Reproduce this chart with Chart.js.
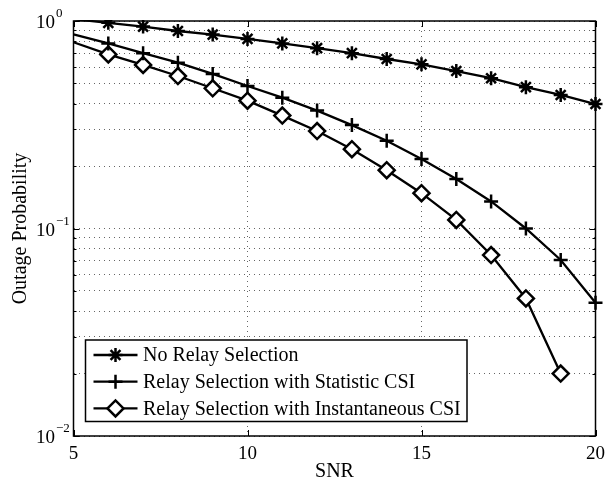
<!DOCTYPE html>
<html>
<head>
<meta charset="utf-8">
<script src="https://cdn.jsdelivr.net/npm/chart.js@4.4.0/dist/chart.umd.min.js"></script>
<style>
  html, body { margin: 0; padding: 0; background: #fff; }
  #wrap { width: 607px; height: 483px; }
</style>
</head>
<body>
<div id="wrap"><canvas id="maincanvas" width="607" height="483"></canvas></div>
<script>
// data
var snr = [5, 6, 7, 8, 9, 10, 11, 12, 13, 14, 15, 16, 17, 18, 19, 20];
var noRelay = [1.02, 0.98, 0.94, 0.895, 0.86, 0.82, 0.78, 0.74, 0.70, 0.656, 0.618, 0.574, 0.53, 0.48, 0.44, 0.398];
var statCsi = [0.863, 0.78, 0.70, 0.63, 0.556, 0.486, 0.427, 0.37, 0.315, 0.265, 0.216, 0.173, 0.135, 0.100, 0.0705, 0.0439];
var instCsi = [0.79, 0.69, 0.614, 0.543, 0.474, 0.413, 0.35, 0.295, 0.241, 0.191, 0.148, 0.110, 0.0745, 0.046, 0.020];
var seriesNames = ["No Relay Selection", "Relay Selection with Statistic CSI", "Relay Selection with Instantaneous CSI"];
var xTicks = [5, 10, 15, 20];
var yTicks = [0.01, 0.02, 0.03, 0.04, 0.05, 0.06, 0.07, 0.08, 0.09,
              0.1, 0.2, 0.3, 0.4, 0.5, 0.6, 0.7, 0.8, 0.9, 1];
var yDecades = [1, 0.1, 0.01];
var yExponents = ["0", "\u22121", "\u22122"];

var serif = '"Liberation Serif", "Times New Roman", serif';

function toPoints(vals) {
    return vals.map(function(v, i){ return {x: snr[i], y: v}; });
}
function radii(vals, r) {
    // no marker on the first sample (x = 5)
    return vals.map(function(v, i){ return i === 0 ? 0 : r; });
}

function makeSet(label, vals, style, r) {
    return {
        label: label,
        data: toPoints(vals),
        borderColor: "#000",
        borderWidth: 2.3,
        pointStyle: style,
        pointRadius: radii(vals, r),
        pointHoverRadius: radii(vals, r),
        pointBorderColor: "#000",
        pointBackgroundColor: "#fff",
        pointBorderWidth: 2.5,
        tension: 0,
        clip: {left: 0, top: 1, right: 10, bottom: 10}
    };
}

var datasets = [
    makeSet(seriesNames[0], noRelay, "star", 7),
    makeSet(seriesNames[1], statCsi, "cross", 7),
    makeSet(seriesNames[2], instCsi, "rectRot", 8)
];

var frameAndLabels = {
    id: "frameAndLabels",
    afterDatasetsDraw: function(chart) {
        var ctx = chart.ctx, a = chart.chartArea;
        var xs = chart.scales.x, ys = chart.scales.y;
        ctx.save();
        ctx.strokeStyle = "#000";
        // inward ticks
        ctx.lineWidth = 1;
        ctx.beginPath();
        xTicks.forEach(function(v){
            var px = Math.round(xs.getPixelForValue(v)) + 0.5;
            ctx.moveTo(px, a.bottom); ctx.lineTo(px, a.bottom - 6);
            ctx.moveTo(px, a.top); ctx.lineTo(px, a.top + 6);
        });
        yTicks.forEach(function(v){
            var py = Math.round(ys.getPixelForValue(v)) + 0.5;
            var len = yDecades.indexOf(v) >= 0 ? 6 : 3;
            ctx.moveTo(a.left, py); ctx.lineTo(a.left + len, py);
            ctx.moveTo(a.right, py); ctx.lineTo(a.right - len, py);
        });
        ctx.stroke();
        // box
        ctx.lineWidth = 1.5;
        ctx.strokeRect(a.left, a.top, a.right - a.left, a.bottom - a.top);

        ctx.fillStyle = "#000";
        // x tick labels
        ctx.font = "19px " + serif;
        ctx.textAlign = "center";
        ctx.textBaseline = "alphabetic";
        xTicks.forEach(function(v){
            ctx.fillText(String(v), xs.getPixelForValue(v), a.bottom + 23);
        });
        // y tick labels 10^n
        yDecades.forEach(function(v, i){
            var py = ys.getPixelForValue(v);
            var lx = a.left - 37.5;
            ctx.font = "19px " + serif;
            ctx.textAlign = "left";
            ctx.fillText("10", lx, py + 7);
            var w = ctx.measureText("10").width;
            ctx.font = "13px " + serif;
            ctx.fillText(yExponents[i], lx + w + 1, py - 4);
        });
        // axis titles
        ctx.font = "20px " + serif;
        ctx.textAlign = "center";
        ctx.fillText("SNR", (a.left + a.right) / 2, a.bottom + 40.5);
        ctx.save();
        ctx.translate(26, (a.top + a.bottom) / 2);
        ctx.rotate(-Math.PI / 2);
        ctx.fillText("Outage Probability", 0, 0);
        ctx.restore();
        ctx.restore();
    }
};

var boxLegend = {
    id: "boxLegend",
    afterDraw: function(chart) {
        var ctx = chart.ctx, a = chart.chartArea;
        var bx = a.left + 12, by = 340, bw = 381.5, bh = 81.5;
        ctx.save();
        ctx.fillStyle = "#fff";
        ctx.fillRect(bx, by, bw, bh);
        ctx.strokeStyle = "#000";
        ctx.lineWidth = 1.5;
        ctx.strokeRect(bx, by, bw, bh);
        chart.data.datasets.forEach(function(ds, i){
            var ry = by + 15 + i * 26.7;
            ctx.strokeStyle = "#000";
            ctx.lineWidth = 2.3;
            ctx.beginPath();
            ctx.moveTo(bx + 8, ry); ctx.lineTo(bx + 52, ry);
            ctx.stroke();
            ctx.fillStyle = "#fff";
            ctx.lineWidth = 2.5;
            var r = ds.pointStyle === "rectRot" ? 8 : 7;
            Chart.helpers.drawPoint(ctx, {pointStyle: ds.pointStyle, radius: r, borderWidth: 2.5, rotation: 0}, bx + 30, ry);
            ctx.fillStyle = "#000";
            ctx.font = "20px " + serif;
            ctx.textAlign = "left";
            ctx.textBaseline = "middle";
            ctx.fillText(ds.label, bx + 57.5, ry + 1);
        });
        ctx.restore();
    }
};

var mainchart = document.getElementById("maincanvas").getContext("2d");
var mainLineChart = new Chart(mainchart, {
    type: "line",
    data: { datasets: datasets },
    options: {
        responsive: false,
        animation: false,
        events: [],
        layout: { padding: { left: 73.5, top: 21, right: 11.5, bottom: 47 } },
        plugins: { legend: { display: false }, tooltip: { enabled: false } },
        scales: {
            x: {
                type: "linear",
                min: 5, max: 20,
                afterBuildTicks: function(scale){ scale.ticks = xTicks.map(function(v){ return {value: v}; }); },
                ticks: { display: false, autoSkip: false },
                grid: { color: "rgba(0,0,0,0.6)", lineWidth: 1, drawTicks: false },
                border: { display: false, dash: [1, 4] }
            },
            y: {
                type: "logarithmic",
                min: 0.01, max: 1,
                afterBuildTicks: function(scale){ scale.ticks = yTicks.map(function(v){ return {value: v}; }); },
                ticks: { display: false, autoSkip: false },
                grid: { color: "rgba(0,0,0,0.6)", lineWidth: 1, drawTicks: false },
                border: { display: false, dash: [1, 4] }
            }
        }
    },
    plugins: [frameAndLabels, boxLegend]
});
</script>
</body>
</html>
